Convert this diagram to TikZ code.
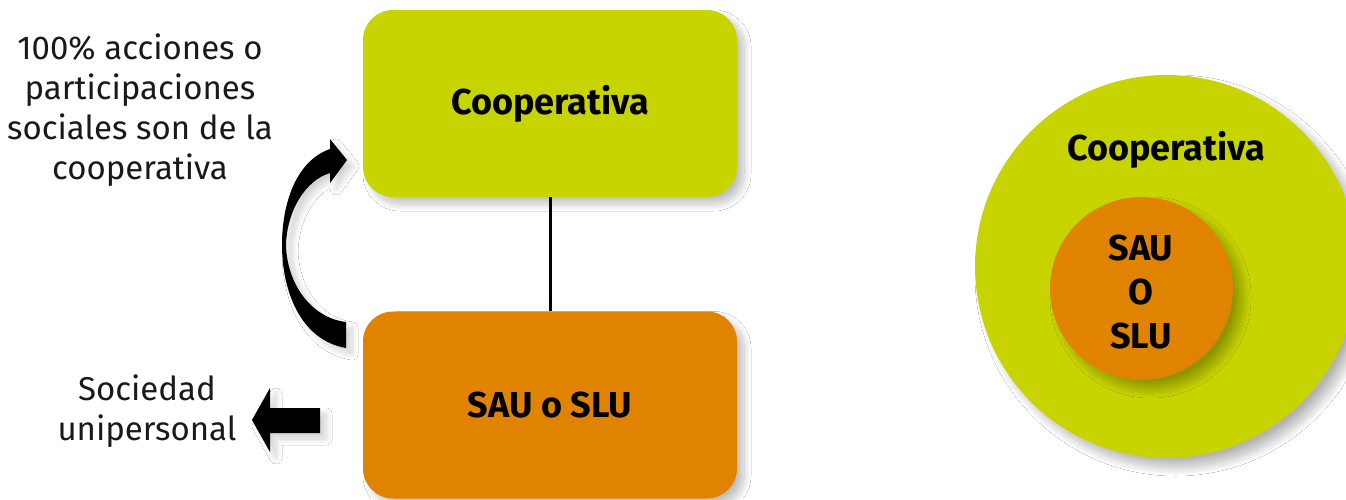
\documentclass[tikz,border=0pt]{standalone}
\usepackage{fontspec}
\setmainfont{Fira Sans}
\usetikzlibrary{shadows.blur}
\definecolor{coopgreen}{HTML}{C8D400}
\definecolor{sauorange}{HTML}{E08300}
\begin{document}
\begin{tikzpicture}[x=1pt,y=-1pt,
  box/.style={rounded corners=30pt, minimum width=374pt, minimum height=187pt,
    inner sep=0pt, font=\fontsize{36}{42}\selectfont\bfseries,
    blur shadow={shadow xshift=7pt, shadow yshift=-7pt, shadow blur radius=7pt, shadow blur steps=25, shadow opacity=25}},
  lbl/.style={align=center, font=\fontsize{33}{40}\selectfont, text=black!90},
  circ/.style={circle, inner sep=0pt,
    blur shadow={shadow xshift=9pt, shadow yshift=-9pt, shadow blur radius=9pt, shadow blur steps=25, shadow opacity=30}},
  darr/.style={fill=black, blur shadow={shadow xshift=6pt, shadow yshift=-6pt, shadow blur radius=6pt, shadow blur steps=20, shadow opacity=18}}
]
\clip (0,0) rectangle (1346,499);
\useasboundingbox (0,0) rectangle (1346,499);
\fill[white] (0,0) rectangle (1346,499);

% boxes
\node[box, fill=coopgreen] (coop) at (550,103.5) {Cooperativa};
\node[box, fill=sauorange] (sau) at (550,405) {SAU o SLU};
\draw[line width=3pt] (coop.south) -- (sau.north);

% left texts
\node[lbl] (t1) at (140,110) {100\% acciones o\\participaciones\\sociales son de la\\cooperativa};
\node[lbl] (t2) at (147,411) {Sociedad\\unipersonal};

% block arrow
\path[darr] (320,408) -- (270,408) -- (270,388) -- (252,420) -- (270,452) -- (270,433) -- (320,433) -- cycle;

% curved arrow
\path[darr] (346,348) .. controls (300,340) and (282,290) .. (282,245)
  .. controls (282,200) and (298,160) .. (330,149)
  -- (330,139) -- (347,160) -- (330,183) -- (330,173)
  .. controls (306,180) and (287,210) .. (286,245)
  .. controls (287,285) and (312,318) .. (346,322) -- cycle;

% circles
\node[circ, fill=coopgreen, minimum size=383pt] (big) at (1166.5,266.5) {};
\node[font=\fontsize{36}{42}\selectfont\bfseries] (bigl) at (1166,150) {Cooperativa};
\node[circ, fill=sauorange, minimum size=183pt] (small) at (1141.5,288.5) {};
\node[align=center, font=\fontsize{36}{44}\selectfont\bfseries] (smalll) at (1141,292) {SAU\\O\\SLU};
\end{tikzpicture}
\end{document}
